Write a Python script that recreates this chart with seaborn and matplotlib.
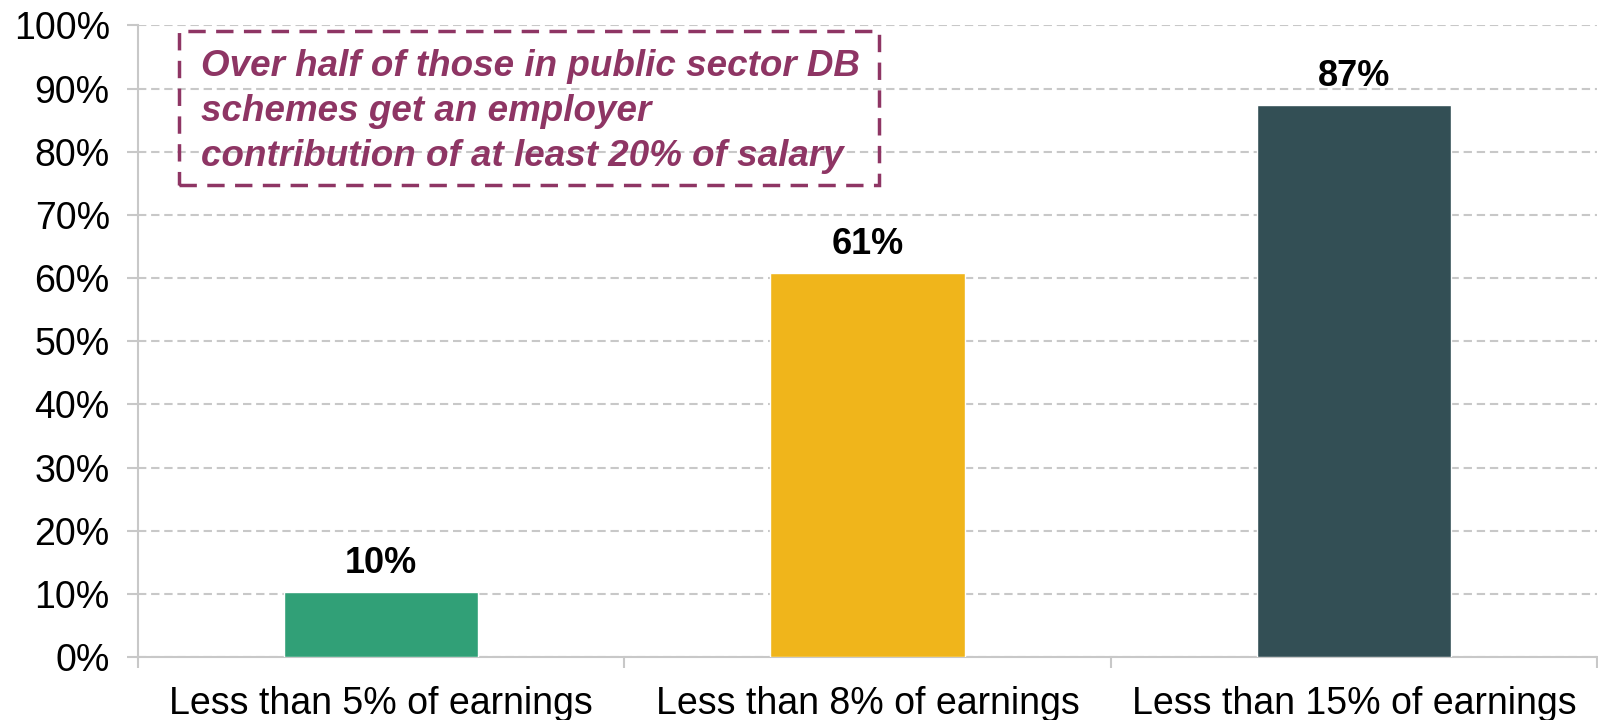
import matplotlib
matplotlib.use("Agg")
import matplotlib.pyplot as plt
import seaborn as sns
import pandas as pd
from matplotlib.patches import Rectangle
from matplotlib.ticker import FixedLocator

categories = ["Less than 5% of earnings", "Less than 8% of earnings", "Less than 15% of earnings"]
shares = [10.3, 60.8, 87.4]
bar_colors = ["#31a077", "#f0b51b", "#334f55"]
y_ticks = [0, 10, 20, 30, 40, 50, 60, 70, 80, 90, 100]
y_tick_labels = [f"{v}%" for v in y_ticks]
note_text = ("Over half of those in public sector DB\n"
             "schemes get an employer\n"
             "contribution of at least 20% of salary")

sns.set_style("white")
plt.rcParams["font.family"] = ["Liberation Sans", "DejaVu Sans"]

df = pd.DataFrame({"category": categories, "share": shares})

fig = plt.figure(figsize=(15.98, 7.2), dpi=100)
ax = fig.add_axes([0.0861, 0.0875, 0.9135, 0.8771])

sns.barplot(data=df, x="category", y="share", hue="category",
            palette=bar_colors, width=0.4, legend=False, ax=ax,
            saturation=1, zorder=3)

ax.set_ylim(0, 100)
ax.set_xlim(-0.5, 2.5)
ax.set_yticks(y_ticks)
ax.set_yticklabels(y_tick_labels)
ax.set_xlabel("")
ax.set_ylabel("")

grid_color = "#c8c8c8"
ax.yaxis.grid(True, linestyle=(0, (4, 2.3)), color=grid_color, linewidth=1.5, zorder=0)
ax.xaxis.grid(False)
ax.set_axisbelow(True)

for side in ["top", "right"]:
    ax.spines[side].set_visible(False)
for side in ["left", "bottom"]:
    ax.spines[side].set_color("#c8c8c8")
    ax.spines[side].set_linewidth(1.5)

ax.tick_params(axis="y", left=True, length=8, width=1.5, color="#c8c8c8",
               labelsize=27, labelcolor="black", pad=12)
ax.tick_params(axis="x", which="major", bottom=True, length=0, labelsize=27,
               labelcolor="black", pad=21)
ax.xaxis.set_minor_locator(FixedLocator([-0.5, 0.5, 1.5, 2.5]))
ax.tick_params(axis="x", which="minor", bottom=True, length=8, width=1.5,
               color="#c8c8c8")

for i, v in enumerate(shares):
    ax.text(i, v + 1.8, f"{v:.0f}%", ha="center", va="bottom",
            fontsize=26, fontweight="bold", color="black")

note_color = "#8e3564"
box = Rectangle((0.0283, 0.747), 0.4797, 0.245, transform=ax.transAxes,
                fill=False, edgecolor=note_color, linewidth=2.5,
                linestyle=(0, (5, 3)), clip_on=False, zorder=5)
ax.add_patch(box)
ax.text(0.0435, 0.963, note_text, transform=ax.transAxes, ha="left", va="top",
        fontsize=26.5, fontweight="bold", fontstyle="italic", color=note_color,
        linespacing=1.37, zorder=6)

fig.savefig("out.png", dpi=100)
